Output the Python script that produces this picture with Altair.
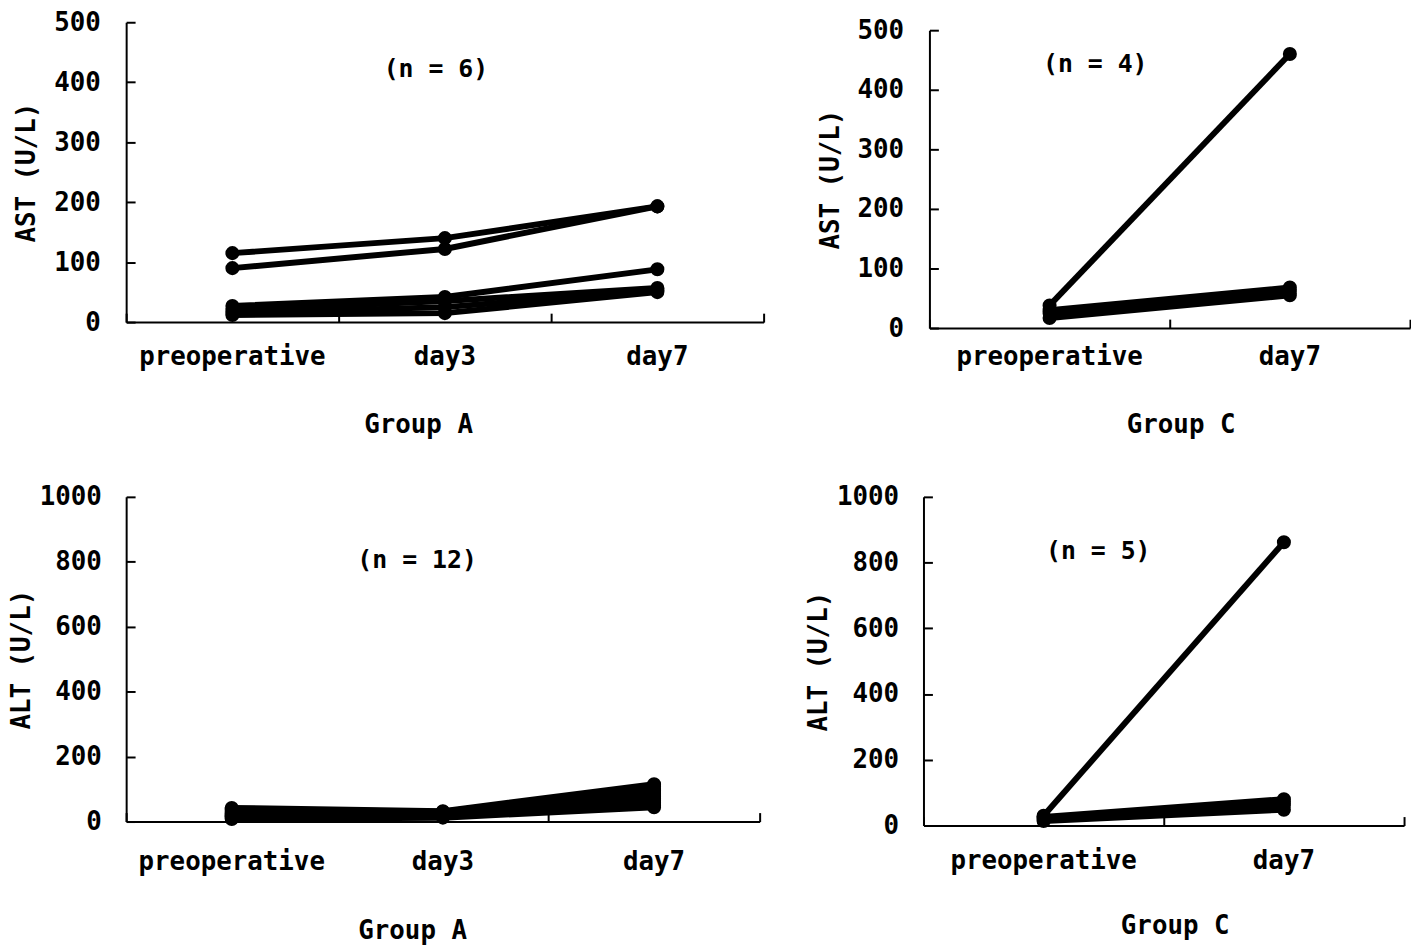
import altair as alt
import pandas as pd

FONT = "DejaVu Sans Mono, Liberation Mono, monospace"

# ---- data ----
cats_A = ["preoperative", "day3", "day7"]
cats_C = ["preoperative", "day7"]

ast_A_pre = [115, 90, 27, 20, 15, 12]
ast_A_day3 = [140, 122, 42, 35, 25, 15]
ast_A_day7 = [193, 193, 88, 57, 53, 50]

ast_C_pre = [38, 30, 25, 17]
ast_C_day7 = [460, 68, 62, 55]

alt_A_pre = [42, 38, 34, 30, 27, 24, 22, 19, 16, 13, 10, 8]
alt_A_day3 = [32, 30, 27, 25, 22, 20, 18, 22, 26, 18, 15, 12]
alt_A_day7 = [115, 108, 100, 95, 88, 82, 76, 70, 64, 58, 50, 44]

alt_C_pre = [30, 26, 22, 18, 14]
alt_C_day7 = [862, 80, 72, 62, 48]

n_texts = ["(n = 6)", "(n = 4)", "(n = 12)", "(n = 5)"]

AX = dict(labelFont=FONT, titleFont=FONT, labelFontWeight="bold", titleFontWeight="bold",
          labelFontSize=26, titleFontSize=26, labelColor="black", titleColor="black",
          domainColor="black", tickColor="black", grid=False, labelLimit=0)


def long_df(cats, series):
    rows = []
    for c, vals in zip(cats, series):
        for i, v in enumerate(vals):
            rows.append({"pid": i, "time": c, "value": v})
    return pd.DataFrame(rows)


def panel(df, cats, ymax, ystep, ytitle, xtitle, ntext, tx, ty, w, h, ytop,
          ylab_pad, ytitle_pad, xlab_pad, xtitle_pad, xtitle_x):
    yvals = list(range(0, ymax + 1, ystep))
    xscale = alt.Scale(type="band", domain=cats, paddingInner=0, paddingOuter=0)
    yscale = alt.Scale(domain=[0, ymax], nice=False, zero=True, range=[h, ytop])
    base = alt.Chart(df)
    lines = base.mark_line(color="black", strokeWidth=6).encode(
        x=alt.X("time:N", sort=cats, scale=xscale, bandPosition=0.5,
                axis=alt.Axis(title=xtitle, ticks=False, tickSize=0, labelAngle=0,
                              labelPadding=xlab_pad, titlePadding=xtitle_pad,
                              titleX=xtitle_x, titleAlign="center",
                              domainWidth=2, **AX)),
        y=alt.Y("value:Q", scale=yscale,
                axis=alt.Axis(title=ytitle, values=yvals, format="d", ticks=False, tickSize=0,
                              labelPadding=ylab_pad, titlePadding=ytitle_pad,
                              domainWidth=2, **AX)),
        detail="pid:N",
    )
    points = base.mark_circle(color="black", size=200, opacity=1).encode(
        x=alt.X("time:N", sort=cats, scale=xscale, bandPosition=0.5,
                axis=alt.Axis(orient="top", offset=-h, labels=False, domain=False,
                              title=None, tickBand="extent", tickSize=9, tickWidth=2, **AX)),
        y=alt.Y("value:Q", scale=yscale,
                axis=alt.Axis(orient="right", offset=-w, labels=False, domain=False,
                              title=None, values=yvals, tickSize=9, tickWidth=2, **AX)),
        detail="pid:N",
    )
    txt = alt.Chart(pd.DataFrame({"t": [ntext]})).mark_text(
        font=FONT, fontSize=25, fontWeight="bold", color="black"
    ).encode(text="t:N", x=alt.value(tx), y=alt.value(ty))
    return alt.layer(lines, points, txt).resolve_axis(
        x="independent", y="independent").properties(width=w, height=h)


dfA_ast = long_df(cats_A, [ast_A_pre, ast_A_day3, ast_A_day7])
dfC_ast = long_df(cats_C, [ast_C_pre, ast_C_day7])
dfA_alt = long_df(cats_A, [alt_A_pre, alt_A_day3, alt_A_day7])
dfC_alt = long_df(cats_C, [alt_C_pre, alt_C_day7])

# panel top-left plot: x 121-763, y 13-317
p1 = panel(dfA_ast, cats_A, 500, 100, "AST (U/L)", "Group A", n_texts[0], 312, 47, 642, 302, 0,
           26, 14, 22, 42, 294)
# panel top-right plot: x 930-1414, y 23-323
p2 = panel(dfC_ast, cats_C, 500, 100, "AST (U/L)", "Group C", n_texts[1], 167, 42, 484, 308, 8,
           26, 14, 16, 42, 253)
# panel bottom-left plot: x 127-765, y 499-826
p3 = panel(dfA_alt, cats_A, 1000, 200, "ALT (U/L)", "Group A", n_texts[2], 293, 64, 638, 327, 0,
           25, 5, 27, 44, 288)
# panel bottom-right plot: x 930-1414, y 500-831
p4 = panel(dfC_alt, cats_C, 1000, 200, "ALT (U/L)", "Group C", n_texts[3], 176, 55, 484, 331, 0,
           25, 5, 22, 40, 253)

row1 = alt.hconcat(p1, p2, spacing=167, bounds="flush")
row2 = alt.hconcat(p3, p4, spacing=165, bounds="flush")

chart = alt.concat(row1, row2, columns=1, spacing=47, align="none").properties(
    padding={"left": 0, "top": -2, "right": 0, "bottom": 0},
    background="white",
).configure_view(stroke=None)

chart.save("out.html", embed_options={"renderer": "svg", "actions": False})
